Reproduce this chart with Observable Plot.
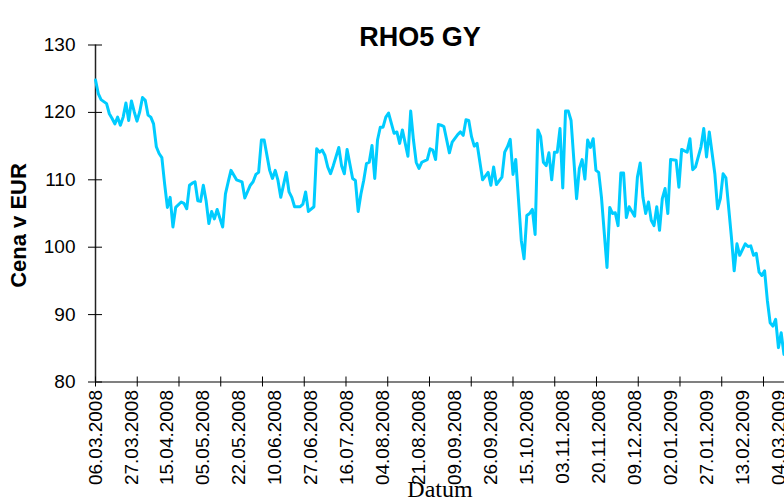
<!DOCTYPE html>
<html>
<head>
<meta charset="utf-8">
<script src="https://cdn.jsdelivr.net/npm/d3@7"></script>
<script src="https://cdn.jsdelivr.net/npm/@observablehq/plot@0.6"></script>
<style>
  html, body { margin: 0; padding: 0; background: #fff; }
  #chart { width: 784px; height: 500px; overflow: hidden; }
</style>
</head>
<body>
<div id="chart"></div>
<script>
// Trading-day index (from 06.03.2008) and closing price in EUR
const days = [0,1,2,3,4,5,6,7,8,9,10,11,12,13,14,15,16,17,18,19,20,21,22,23,24,25,26,27,28,29,31,32,33,34,35,36,37,38,39,40,41,42,43,44,46,47,48,49,51,53,54,56,57,58,59,60,61,63,64,65,66,67,69,70,71,72,74,75,76,77,79,80,81,82,83,84,85,86,88,89,90,91,93,94,95,96,97,98,99,100,101,102,103,104,105,106,108,109,110,111,113,114,115,116,117,118,120,121,122,123,124,125,126,128,129,131,132,133,134,135,136,137,138,140,142,143,144,145,147,148,149,150,151,152,154,155,156,157,158,159,160,161,162,163,164,165,166,167,168,169,170,171,172,174,175,176,177,178,179,180,181,182,183,185,186,187,188,189,190,191,192,193,195,196,197,198,199,200,201,202,203,204,205,206,207,208,210,211,212,213,214,215,216,217,219,220,221,222,224,225,226,227,228,230,231,232,233,235,236,237,238,239,240,241,242,243,244,245,246,247,248,249];
const prices = [124.8,122.8,121.9,121.6,121.3,119.8,119.1,118.3,119.3,118.1,119.3,121.4,118.8,121.7,120.1,118.7,120.1,122.2,121.8,119.6,119.3,118.3,114.9,113.9,113.3,109.4,105.9,107.4,103.0,105.9,106.7,106.5,105.7,109.2,109.5,109.7,106.9,106.8,109.2,106.9,103.5,105.3,104.2,105.6,103.0,107.9,109.7,111.4,110.0,109.7,107.3,109.2,109.7,110.8,111.1,115.9,115.9,111.4,110.2,111.4,109.9,107.4,111.1,108.2,107.4,106.0,106.0,106.4,108.2,105.3,106.0,114.6,114.1,114.4,113.6,111.9,110.9,112.1,114.8,112.1,110.9,114.5,110.2,109.9,105.3,107.9,109.9,112.4,112.6,115.1,110.2,115.9,117.8,117.8,119.3,119.9,116.9,117.1,115.4,117.4,113.5,120.2,115.9,112.6,111.7,112.6,113.0,114.6,114.4,113.0,118.2,118.1,117.9,114.0,115.6,116.7,117.1,116.6,118.9,118.8,116.4,115.0,115.4,110.0,111.1,109.2,111.9,109.3,110.4,114.1,114.9,116.0,110.8,113.0,101.0,98.3,104.7,105.0,105.6,101.9,117.4,116.4,112.6,112.1,114.0,110.0,114.1,114.1,117.6,108.8,120.2,120.2,118.8,107.2,111.7,113.0,110.1,115.9,114.8,116.1,111.4,111.1,107.4,97.0,105.9,105.0,105.1,103.2,111.0,111.0,104.4,106.0,104.6,110.4,112.5,107.4,105.0,106.7,104.0,103.2,106.0,102.5,107.2,108.7,105.0,113.0,112.9,108.9,114.5,114.3,114.1,116.1,111.5,111.9,114.9,117.6,113.4,117.1,110.9,105.7,107.2,110.9,110.3,101.5,96.5,100.5,98.8,100.5,100.1,100.2,98.8,99.1,96.3,95.8,96.5,92.1,88.8,88.3,89.3,85.1,87.3,84.1];

// Date labels every 13 trading days
const labelDates = ["06.03.2008","27.03.2008","15.04.2008","05.05.2008","22.05.2008","10.06.2008","27.06.2008","16.07.2008","04.08.2008","21.08.2008","09.09.2008","26.09.2008","15.10.2008","03.11.2008","20.11.2008","09.12.2008","02.01.2009","27.01.2009","13.02.2009","04.03.2009"];
const labelStep = 13;
const tickStep = 15.1;
const yTicks = [80, 90, 100, 110, 120, 130];

const title = "RHO5 GY";
const yLabel = "Cena v EUR";
const xLabel = "Datum";

const data = days.map((d, i) => ({day: d, price: prices[i]}));
const labelDays = labelDates.map((_, i) => i * labelStep);
const tickDays = d3.range(0, 250, tickStep);

const chart = Plot.plot({
  width: 784,
  height: 500,
  marginLeft: 95,
  marginRight: 0,
  marginTop: 44.5,
  marginBottom: 118.5,
  style: {fontFamily: "'Liberation Sans', Arial, sans-serif", background: "#fff", color: "#000", overflow: "hidden"},
  x: {domain: [0, 249.2]},
  y: {domain: [80, 130]},
  marks: [
    Plot.ruleY([80], {stroke: "#808080", strokeWidth: 2}),
    Plot.ruleX([0], {stroke: "#222", strokeWidth: 1.5}),
    Plot.axisY({ticks: yTicks, tickSize: 0, tickPadding: 20, fontSize: 19, label: null}),
    Plot.axisY({ticks: yTicks, tickSize: 14, dx: 7, tickFormat: () => "", label: null, stroke: "#000"}),
    Plot.axisX({ticks: tickDays, tickSize: 10, dy: -5, tickFormat: () => "", label: null, stroke: "#000"}),
    Plot.axisX({ticks: labelDays, tickSize: 0, tickPadding: 8, tickRotate: -90,
      tickFormat: d => labelDates[Math.round(d / labelStep)], fontSize: 19, label: null}),
    Plot.line(data, {x: "day", y: "price", stroke: "#00CCFF", strokeWidth: 3}),
    Plot.text([title], {frameAnchor: "top", dx: -20, dy: -18, fontSize: 27, fontWeight: "bold"}),
    Plot.text([yLabel], {frameAnchor: "left", textAnchor: "middle", rotate: -90, dx: -77, dy: 12, fontSize: 22, fontWeight: "bold"}),
    Plot.text([xLabel], {frameAnchor: "bottom", dy: 115, fontSize: 24, fontFamily: "'Liberation Serif', serif"})
  ]
});
document.getElementById("chart").appendChild(chart);
</script>
</body>
</html>
